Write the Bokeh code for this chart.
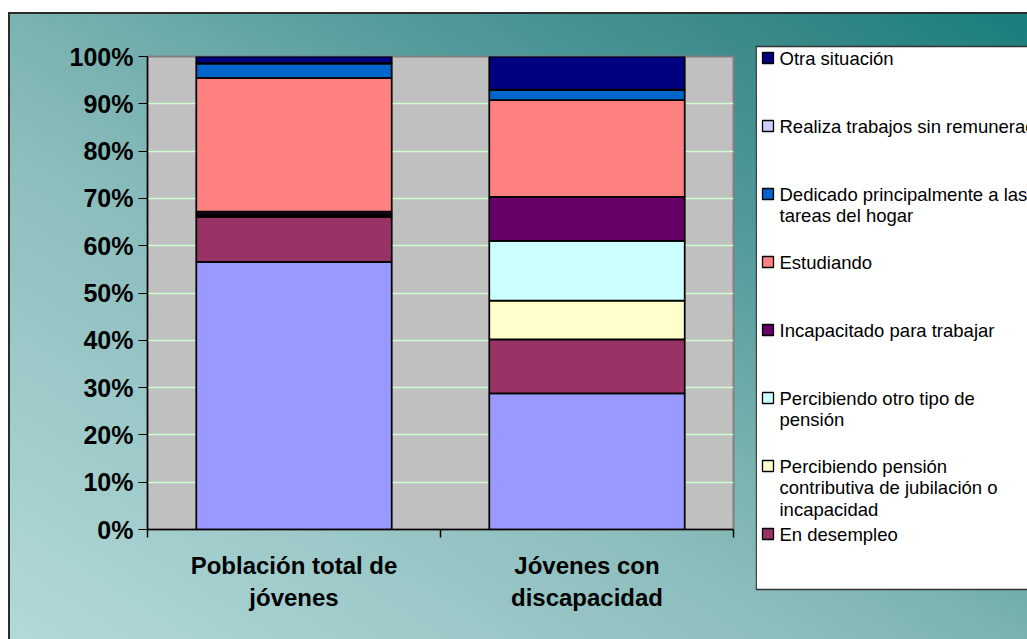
from bokeh.plotting import figure
from bokeh.layouts import row
from bokeh.models import ColumnDataSource, Range1d, LinearAxis, FixedTicker, Grid
from bokeh.core.properties import value
from bokeh.embed import file_html
from bokeh.resources import INLINE

# ---------------- data ----------------
categories = ["Población total de jóvenes", "Jóvenes con discapacidad"]
tick_labels = ["Población total de\njóvenes", "Jóvenes con\ndiscapacidad"]

series = [
    "Trabajando",
    "En desempleo",
    "Percibiendo pensión contributiva de jubilación o incapacidad",
    "Percibiendo otro tipo de pensión",
    "Incapacitado para trabajar",
    "Estudiando",
    "Dedicado principalmente a las tareas del hogar",
    "Realiza trabajos sin remuneración",
    "Otra situación",
]
poblacion_total = [56.6, 9.5, 0.2, 0.4, 0.5, 28.3, 3.0, 0.1, 1.4]
jovenes_discapacidad = [28.8, 11.4, 8.2, 12.6, 9.3, 20.5, 2.1, 0.1, 7.0]

colors = ["#9999FF", "#993366", "#FFFFCC", "#CCFFFF", "#660066",
          "#FF8080", "#0066CC", "#CCCCFF", "#000080"]

# legend text (wrapped as in the original legend); the first series has no entry
legend_lines = {
    "En desempleo": ["En desempleo"],
    "Percibiendo pensión contributiva de jubilación o incapacidad":
        ["Percibiendo pensión", "contributiva de jubilación o", "incapacidad"],
    "Percibiendo otro tipo de pensión": ["Percibiendo otro tipo de", "pensión"],
    "Incapacitado para trabajar": ["Incapacitado para trabajar"],
    "Estudiando": ["Estudiando"],
    "Dedicado principalmente a las tareas del hogar":
        ["Dedicado principalmente a las", "tareas del hogar"],
    "Realiza trabajos sin remuneración": ["Realiza trabajos sin remuneración"],
    "Otra situación": ["Otra situación"],
}

y_ticks = list(range(0, 101, 10))

# ---------------- main chart ----------------
H = 639
MAIN_W, LEG_W = 755, 272
FONT = "Liberation Sans"

p = figure(width=MAIN_W, height=H, output_backend="svg", toolbar_location=None,
           x_range=Range1d(0, len(categories)), y_range=Range1d(0, 100),
           x_axis_type=None, y_axis_type=None,
           min_border_left=147, min_border_right=MAIN_W - 733,
           min_border_top=56, min_border_bottom=H - 529)
p.title = None
p.frame_align = False
p.border_fill_alpha = 0
p.background_fill_color = "#C0C0C0"
p.outline_line_color = "#808080"
p.outline_line_width = 2

yticker = FixedTicker(ticks=y_ticks)
p.add_layout(Grid(dimension=1, ticker=yticker, grid_line_color="#CCFFCC",
                  grid_line_width=1.5))

xpos = [i + 0.5 for i in range(len(categories))]
data = {"x": xpos}
for i, s in enumerate(series):
    data[s] = [poblacion_total[i], jovenes_discapacidad[i]]
source = ColumnDataSource(data)
p.vbar_stack(series, x="x", width=0.667, color=colors, line_color="black",
             line_width=1.75, source=source)

yaxis = LinearAxis(ticker=yticker)
yaxis.major_label_overrides = {v: f"{v}%" for v in y_ticks}
yaxis.major_label_text_font = FONT
yaxis.major_label_text_font_style = "bold"
yaxis.major_label_text_font_size = "25px"
yaxis.major_label_text_color = "black"
yaxis.major_tick_out = 9
yaxis.major_tick_in = 0
yaxis.minor_tick_out = 0
yaxis.minor_tick_in = 0
yaxis.major_label_standoff = 5
yaxis.axis_line_color = "black"
yaxis.axis_line_width = 1.5
yaxis.major_tick_line_color = "black"
p.add_layout(yaxis, "left")

xticker = FixedTicker(ticks=xpos, minor_ticks=list(range(len(categories) + 1)))
xaxis = LinearAxis(ticker=xticker)
xaxis.major_label_overrides = {x: t for x, t in zip(xpos, tick_labels)}
xaxis.major_label_text_font = FONT
xaxis.major_label_text_font_style = "bold"
xaxis.major_label_text_font_size = "24px"
xaxis.major_label_text_color = "black"
xaxis.major_label_text_align = "center"
xaxis.major_tick_out = 0
xaxis.major_tick_in = 0
xaxis.minor_tick_out = 8
xaxis.minor_tick_in = 0
xaxis.minor_tick_line_color = "black"
xaxis.minor_tick_line_width = 1.5
xaxis.major_label_standoff = 14
xaxis.axis_line_color = "black"
xaxis.axis_line_width = 1.5
p.add_layout(xaxis, "below")

# ---------------- legend panel (pixel coordinates, y downwards) ----------------
leg = figure(width=LEG_W, height=H, output_backend="svg", toolbar_location=None,
             x_range=Range1d(0, LEG_W), y_range=Range1d(H, 0),
             x_axis_type=None, y_axis_type=None,
             min_border_left=0, min_border_right=0,
             min_border_top=0, min_border_bottom=0)
leg.title = None
leg.frame_align = False
leg.border_fill_alpha = 0
leg.background_fill_alpha = 0
leg.outline_line_color = None
leg.xgrid.visible = False
leg.ygrid.visible = False

leg.quad(left=[0.75], right=[LEG_W + 50], top=[46], bottom=[589],
         fill_color="white", line_color="#333333", line_width=1.3)

entries = [s for s in series[::-1] if s in legend_lines]
col = dict(zip(series, colors))
y0, step, lh = 57.5, 68, 21.7
sq_l, sq_r, sq_t, sq_b, tx, ty, tt = [], [], [], [], [], [], []
sq_c = []
for k, s in enumerate(entries):
    yc = y0 + k * step
    sq_l.append(7); sq_r.append(18); sq_t.append(yc - 5.5); sq_b.append(yc + 5.5)
    sq_c.append(col[s])
    for j, line in enumerate(legend_lines[s]):
        tx.append(24); ty.append(yc + j * lh); tt.append(line)

leg.quad(left=sq_l, right=sq_r, top=sq_t, bottom=sq_b, fill_color=sq_c,
         line_color="black", line_width=1.3)
leg.text(x=tx, y=ty, text=tt, text_baseline="middle", text_align="left",
         text_font=value(FONT), text_font_size="18.5px", text_color="black")

layout = row(p, leg)
layout.styles = {
    "background": (
        "linear-gradient(#2b2b2b, #2b2b2b) 8px 12px / 2px 100% no-repeat,"
        "linear-gradient(#2b2b2b, #2b2b2b) 8px 12px / 100% 2px no-repeat,"
        "linear-gradient(#ffffff, #ffffff) 0 0 / 100% 12px no-repeat,"
        "linear-gradient(#ffffff, #ffffff) 0 0 / 8px 100% no-repeat,"
        "linear-gradient(to bottom left, #167d7b 0%, #3a8a88 16%, #50999a 31%, #79b2b0 50%, #8cbdbd 61%, #b3d9d9 100%)"
    )
}

open("out.html", "w").write(file_html(layout, INLINE))
